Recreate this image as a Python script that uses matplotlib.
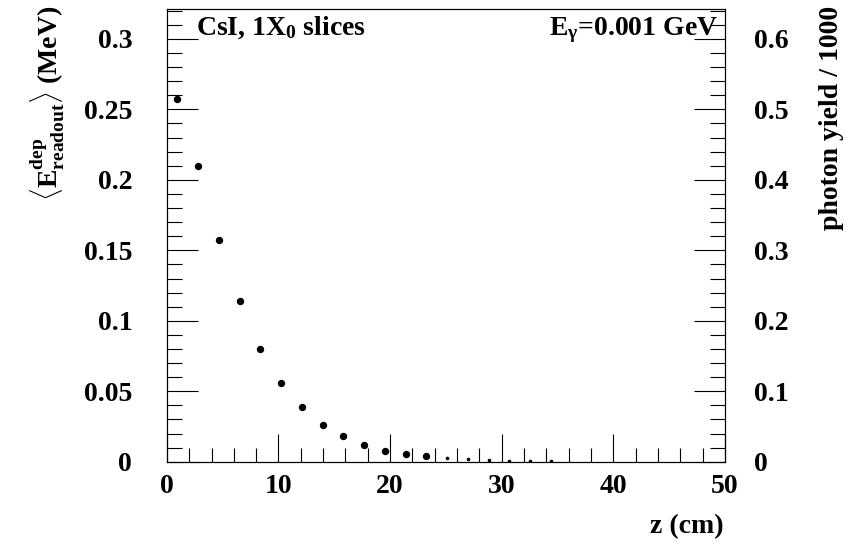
import numpy as np
import matplotlib
matplotlib.use("Agg")
import matplotlib.pyplot as plt
from matplotlib.ticker import MultipleLocator

plt.rcParams['font.family'] = ['Liberation Serif', 'DejaVu Serif']
plt.rcParams['font.weight'] = 'bold'
plt.rcParams['mathtext.fontset'] = 'custom'
plt.rcParams['mathtext.rm'] = 'Liberation Serif:bold'
plt.rcParams['mathtext.it'] = 'Liberation Serif:bold'
plt.rcParams['mathtext.bf'] = 'Liberation Serif:bold'

FS = 20

# slice centres (1 X0 of CsI = 1.86 cm) and mean deposited energy
z_big = [0.93, 2.79, 4.65, 6.51, 8.37, 10.23, 12.09, 13.95, 15.81, 17.67, 19.53, 21.39, 23.25]
e_big = [0.257, 0.210, 0.157, 0.114, 0.080, 0.056, 0.039, 0.026, 0.018, 0.012, 0.008, 0.0057, 0.004]
# tail slices (tiny values)
z_small = [25.11, 26.97, 28.83, 30.69, 32.55, 34.41]
e_small = [0.0025, 0.0018, 0.0012, 0.0008, 0.0005, 0.0003]

fig = plt.figure(figsize=(8.47, 5.42), dpi=100)
ax = fig.add_axes([0.197, 0.148, 0.659, 0.835])

ax.plot(z_big, e_big, 'o', color='black', markersize=4.3, linestyle='none')
ax.plot(z_small, e_small, 'o', color='black', markersize=1.6, linestyle='none')

ax.set_xlim(0, 50)
ax.set_ylim(0, 0.321)
ax.xaxis.set_major_locator(MultipleLocator(10))
ax.xaxis.set_minor_locator(MultipleLocator(2))
ax.yaxis.set_minor_locator(MultipleLocator(0.01))
ax.set_yticks([0, 0.05, 0.1, 0.15, 0.2, 0.25, 0.3])
ax.set_yticklabels(['0', '0.05', '0.1', '0.15', '0.2', '0.25', '0.3'])

ax.tick_params(axis='both', which='both', direction='in', top=False, right=False,
               labelsize=FS, width=0.8)
ax.tick_params(axis='x', which='major', length=20, pad=9)
ax.tick_params(axis='x', which='minor', length=10)
ax.tick_params(axis='y', which='major', length=22, pad=25)
ax.tick_params(axis='y', which='minor', length=11)

ax2 = ax.twinx()
ax2.set_ylim(0, 0.642)
ax2.set_yticks([0, 0.1, 0.2, 0.3, 0.4, 0.5, 0.6])
ax2.set_yticklabels(['0', '0.1', '0.2', '0.3', '0.4', '0.5', '0.6'])
ax2.yaxis.set_minor_locator(MultipleLocator(0.02))
ax2.tick_params(axis='y', which='both', direction='in', labelsize=FS, width=0.8)
ax2.tick_params(axis='y', which='major', length=22, pad=21)
ax2.tick_params(axis='y', which='minor', length=11)

for a in (ax, ax2):
    for s in a.spines.values():
        s.set_linewidth(0.8)

ax.text(0.053, 0.943, r'CsI, 1X$_0$ slices', transform=ax.transAxes, fontsize=FS,
        fontweight='bold', ha='left', va='baseline')
ax.text(0.987, 0.943, r'E$_\gamma$=0.001 GeV', transform=ax.transAxes, fontsize=FS,
        fontweight='bold', ha='right', va='baseline')

fig.text(0.057, 0.99, r'$\langle$E$^{dep}_{readout}$$\rangle$ (MeV)', rotation=90,
         fontsize=FS, fontweight='bold', ha='center', va='top')
fig.text(0.982, 0.99, 'photon yield / 1000', rotation=90, fontsize=FS,
         fontweight='bold', ha='center', va='top')
fig.text(0.854, 0.017, 'z (cm)', fontsize=FS, fontweight='bold', ha='right', va='baseline')

fig.savefig('out.png', dpi=100)
